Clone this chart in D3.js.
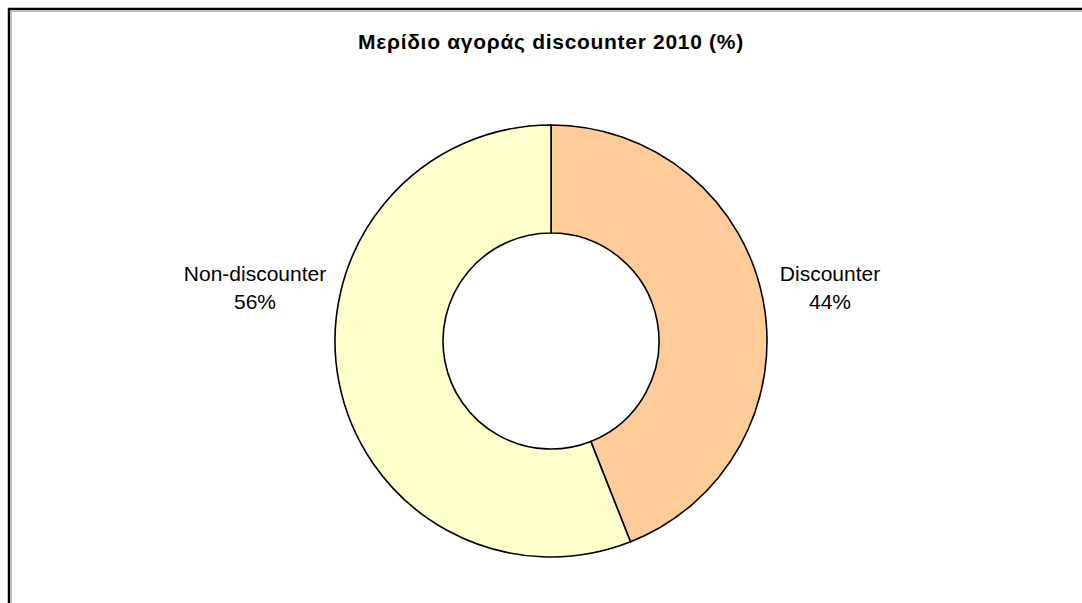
<!DOCTYPE html>
<html>
<head>
<meta charset="utf-8">
<script src="https://cdn.jsdelivr.net/npm/d3@7"></script>
<style>
  html, body { margin: 0; padding: 0; background: #fff; }
  svg { display: block; }
</style>
</head>
<body>
<svg id="chart" width="1082" height="603"></svg>
<script>
// Market share of discount retailers, 2010
const title = "Μερίδιο αγοράς discounter 2010 (%)";
const categories = ["Discounter", "Non-discounter"];
const shares = [44, 56];
const colors = ["#FFCC99", "#FFFFCC"];

const W = 1082, H = 603;
const svg = d3.select("#chart");

// chart area frame (runs off the right and bottom edges)
svg.append("rect")
  .attr("x", 9).attr("y", 9)
  .attr("width", W + 20).attr("height", H + 20)
  .attr("fill", "#fff")
  .attr("stroke", "#000")
  .attr("stroke-width", 2.5);
svg.append("path")
  .attr("d", `M11.5,${H + 10}V11.5H${W + 10}`)
  .attr("fill", "none")
  .attr("stroke", "#bbb")
  .attr("stroke-width", 1);

svg.append("text")
  .attr("x", 551).attr("y", 49)
  .attr("text-anchor", "middle")
  .attr("font-family", "Liberation Sans, Arial, sans-serif")
  .attr("font-weight", "bold")
  .attr("font-size", 21)
  .attr("letter-spacing", 0.7)
  .attr("fill", "#000")
  .text(title);

const cx = 551, cy = 341, rOuter = 216, rInner = 108;
const data = categories.map((c, i) => ({ name: c, value: shares[i], color: colors[i] }));

const pie = d3.pie().value(d => d.value).sort(null);
const arc = d3.arc().innerRadius(rInner).outerRadius(rOuter);

const g = svg.append("g").attr("transform", `translate(${cx},${cy})`);
g.selectAll("path.slice")
  .data(pie(data))
  .join("path")
  .attr("class", "slice")
  .attr("d", arc)
  .attr("fill", d => d.data.color)
  .attr("stroke", "#000")
  .attr("stroke-width", 1.6)
  .attr("stroke-linejoin", "round");

// category labels beside the ring
const labelArc = d3.arc().innerRadius(rOuter + 62).outerRadius(rOuter + 62);
const labels = g.selectAll("text.lbl")
  .data(pie(data))
  .join("text")
  .attr("class", "lbl")
  .attr("font-family", "Liberation Sans, Arial, sans-serif")
  .attr("font-size", 21)
  .attr("fill", "#000")
  .attr("text-anchor", "middle")
  .attr("transform", d => {
    const [x] = labelArc.centroid(d);
    const side = x > 0 ? 1 : -1;
    const lx = side > 0 ? 830 - cx : 255 - cx;
    return `translate(${lx},${281 - cy})`;
  });
labels.append("tspan").attr("x", 0).attr("dy", 0).text(d => d.data.name);
labels.append("tspan").attr("x", 0).attr("dy", 28).text(d => d3.format("d")(d.data.value) + "%");
</script>
</body>
</html>
